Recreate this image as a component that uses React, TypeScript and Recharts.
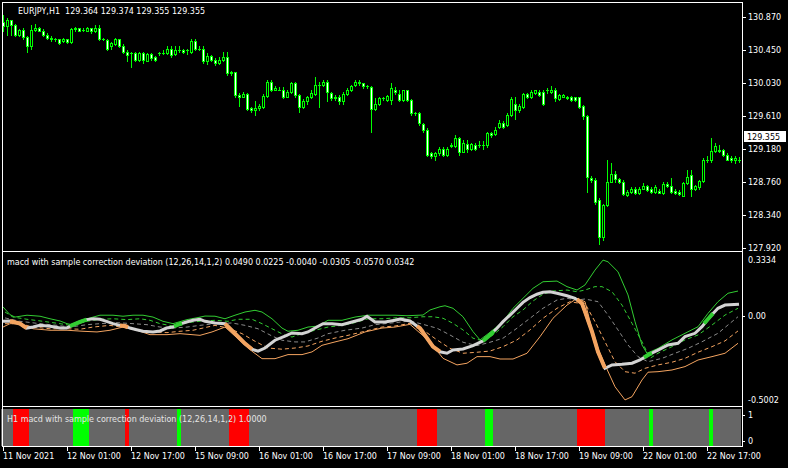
import React from 'react';
import {
  ComposedChart,
  LineChart,
  Bar,
  Line,
  XAxis,
  YAxis,
  Cell,
  ReferenceLine,
} from 'recharts';

const FONT = 'DejaVu Sans';
const LIME = '#00ff00';

// EURJPY H1 candles, bar 0 = 11 Nov 2021 09:00
const opens = [
  130.80, 130.75, 130.82, 130.76, 130.63, 130.70, 130.61, 130.49, 130.70, 130.72,
  130.69, 130.63, 130.60, 130.58, 130.58, 130.56, 130.58, 130.54, 130.71, 130.72,
  130.70, 130.69, 130.72, 130.68, 130.72, 130.58, 130.57, 130.49, 130.52, 130.58,
  130.49, 130.42, 130.40, 130.40, 130.32, 130.41, 130.31, 130.39, 130.35, 130.40,
  130.40, 130.40, 130.46, 130.39, 130.45, 130.44, 130.44, 130.42, 130.56, 130.46,
  130.46, 130.30, 130.37, 130.32, 130.28, 130.32, 130.35, 130.17, 130.16, 129.87,
  129.85, 129.89, 129.70, 129.68, 129.70, 129.72, 129.86, 130.04, 129.94, 129.94,
  129.94, 129.85, 129.91, 130.02, 129.87, 129.72, 129.79, 129.84, 129.89, 130.00,
  130.00, 130.04, 129.90, 129.85, 129.85, 129.79, 129.89, 129.93, 130.00, 130.04,
  130.02, 129.98, 129.97, 129.69, 129.76, 129.83, 129.81, 129.81, 129.94, 129.89,
  129.81, 129.93, 129.81, 129.64, 129.64, 129.50, 129.43, 129.13, 129.09, 129.13,
  129.19, 129.11, 129.22, 129.22, 129.32, 129.15, 129.25, 129.18, 129.23, 129.23,
  129.23, 129.23, 129.39, 129.38, 129.46, 129.52, 129.49, 129.62, 129.76, 129.68,
  129.72, 129.88, 129.84, 129.90, 129.91, 129.91, 129.93, 129.91, 129.93, 129.82,
  129.85, 129.85, 129.84, 129.84, 129.84, 129.73, 129.60, 128.82, 128.79, 128.53,
  128.06, 128.47, 128.77, 128.87, 128.80, 128.77, 128.60, 128.64, 128.68, 128.62,
  128.68, 128.71, 128.68, 128.64, 128.65, 128.62, 128.74, 128.71, 128.65, 128.64,
  128.59, 128.75, 128.85, 128.68, 128.70, 128.78, 129.04, 129.04, 129.16, 129.17,
  129.17, 129.11, 129.07, 129.05, 129.04,
];
const highs = [
  130.89, 130.85, 130.83, 130.78, 130.71, 130.72, 130.62, 130.76, 130.78, 130.74,
  130.71, 130.66, 130.62, 130.60, 130.59, 130.60, 130.59, 130.72, 130.74, 130.73,
  130.72, 130.74, 130.73, 130.76, 130.76, 130.60, 130.59, 130.55, 130.60, 130.59,
  130.52, 130.44, 130.42, 130.42, 130.42, 130.42, 130.41, 130.41, 130.37, 130.42,
  130.44, 130.49, 130.49, 130.49, 130.49, 130.46, 130.46, 130.58, 130.58, 130.49,
  130.49, 130.40, 130.38, 130.34, 130.35, 130.42, 130.42, 130.18, 130.17, 129.90,
  129.91, 129.90, 129.72, 129.79, 129.76, 129.89, 130.06, 130.06, 129.98, 129.97,
  129.97, 129.93, 130.04, 130.04, 129.89, 129.82, 129.86, 129.93, 130.10, 130.04,
  130.06, 130.06, 129.91, 129.87, 129.87, 129.91, 129.96, 130.00, 130.06, 130.06,
  130.03, 130.00, 129.99, 129.83, 129.85, 129.85, 129.87, 130.02, 129.97, 129.93,
  129.94, 129.94, 129.82, 129.66, 129.66, 129.51, 129.45, 129.15, 129.15, 129.21,
  129.21, 129.21, 129.26, 129.36, 129.34, 129.30, 129.30, 129.26, 129.26, 129.28,
  129.28, 129.40, 129.40, 129.47, 129.55, 129.54, 129.64, 129.84, 129.85, 129.76,
  129.90, 129.90, 129.93, 129.94, 129.93, 129.93, 129.96, 129.99, 129.96, 129.89,
  129.88, 129.86, 129.86, 129.85, 129.85, 129.74, 129.62, 128.84, 128.81, 128.56,
  128.49, 129.04, 129.00, 128.90, 128.81, 128.79, 128.66, 128.70, 128.70, 128.70,
  128.75, 128.73, 128.70, 128.73, 128.67, 128.76, 128.77, 128.81, 128.67, 128.66,
  128.77, 128.92, 128.92, 128.73, 128.79, 129.07, 129.09, 129.32, 129.26, 129.23,
  129.19, 129.13, 129.09, 129.09, 129.08,
];
const lows = [
  130.68, 130.63, 130.63, 130.62, 130.62, 130.59, 130.42, 130.46, 130.69, 130.68,
  130.62, 130.59, 130.56, 130.56, 130.52, 130.55, 130.53, 130.53, 130.69, 130.68,
  130.68, 130.68, 130.66, 130.67, 130.57, 130.57, 130.45, 130.46, 130.51, 130.48,
  130.40, 130.30, 130.23, 130.30, 130.31, 130.28, 130.30, 130.32, 130.31, 130.38,
  130.39, 130.39, 130.36, 130.38, 130.42, 130.41, 130.39, 130.41, 130.44, 130.44,
  130.28, 130.27, 130.31, 130.25, 130.27, 130.31, 130.13, 130.13, 129.85, 129.73,
  129.84, 129.68, 129.66, 129.62, 129.68, 129.71, 129.85, 129.92, 129.93, 129.93,
  129.83, 129.84, 129.90, 129.85, 129.66, 129.70, 129.76, 129.83, 129.87, 129.72,
  129.99, 129.79, 129.81, 129.81, 129.76, 129.76, 129.87, 129.92, 129.99, 130.00,
  129.96, 129.96, 129.40, 129.68, 129.74, 129.81, 129.79, 129.76, 129.89, 129.79,
  129.79, 129.79, 129.62, 129.62, 129.49, 129.40, 129.09, 129.07, 129.05, 129.11,
  129.09, 129.09, 129.21, 129.21, 129.11, 129.14, 129.15, 129.17, 129.17, 129.21,
  129.19, 129.21, 129.34, 129.36, 129.45, 129.45, 129.48, 129.60, 129.57, 129.66,
  129.71, 129.83, 129.83, 129.89, 129.86, 129.75, 129.90, 129.90, 129.79, 129.81,
  129.84, 129.82, 129.79, 129.79, 129.71, 129.57, 128.64, 128.77, 128.49, 127.98,
  128.03, 128.46, 128.76, 128.77, 128.75, 128.60, 128.58, 128.62, 128.61, 128.61,
  128.67, 128.65, 128.63, 128.63, 128.62, 128.61, 128.70, 128.63, 128.61, 128.60,
  128.58, 128.74, 128.58, 128.66, 128.68, 128.76, 129.02, 129.02, 129.15, 129.15,
  129.09, 129.04, 129.02, 129.00, 129.02,
];
const closes = [
  130.75, 130.83, 130.76, 130.63, 130.70, 130.61, 130.49, 130.70, 130.72, 130.69,
  130.63, 130.60, 130.58, 130.58, 130.53, 130.58, 130.54, 130.71, 130.72, 130.69,
  130.70, 130.72, 130.68, 130.72, 130.58, 130.59, 130.46, 130.53, 130.58, 130.49,
  130.42, 130.38, 130.40, 130.32, 130.41, 130.32, 130.39, 130.34, 130.32, 130.40,
  130.41, 130.46, 130.38, 130.45, 130.45, 130.42, 130.44, 130.56, 130.46, 130.46,
  130.30, 130.37, 130.32, 130.28, 130.32, 130.35, 130.15, 130.15, 129.87, 129.85,
  129.89, 129.69, 129.68, 129.70, 129.73, 129.86, 130.04, 129.93, 129.96, 129.94,
  129.85, 129.91, 130.02, 129.87, 129.72, 129.79, 129.84, 129.90, 130.00, 130.00,
  130.04, 129.91, 129.83, 129.83, 129.79, 129.89, 129.93, 129.98, 130.04, 130.02,
  129.98, 129.98, 129.69, 129.76, 129.83, 129.83, 129.86, 129.96, 129.91, 129.81,
  129.93, 129.81, 129.64, 129.64, 129.51, 129.43, 129.11, 129.09, 129.13, 129.19,
  129.11, 129.19, 129.23, 129.32, 129.15, 129.26, 129.18, 129.25, 129.18, 129.23,
  129.23, 129.39, 129.36, 129.43, 129.52, 129.47, 129.62, 129.82, 129.68, 129.73,
  129.88, 129.84, 129.91, 129.93, 129.87, 129.76, 129.93, 129.93, 129.83, 129.87,
  129.87, 129.83, 129.81, 129.81, 129.72, 129.60, 128.83, 128.79, 128.51, 128.06,
  128.47, 128.77, 128.87, 128.80, 128.77, 128.61, 128.64, 128.68, 128.62, 128.68,
  128.71, 128.66, 128.64, 128.70, 128.63, 128.74, 128.71, 128.64, 128.63, 128.61,
  128.75, 128.83, 128.68, 128.71, 128.78, 129.04, 129.05, 129.16, 129.22, 129.16,
  129.11, 129.05, 129.05, 129.07, 129.04,
];

const headerQuote = [129.364, 129.374, 129.355, 129.355];
const lastPrice = 129.355;
const priceTicks = [130.87, 130.45, 130.03, 129.61, 129.18, 128.76, 128.34, 127.92];

// macd pane, [bar, value]
const macdMain = [
  [0, -0.032], [1.75, -0.03], [4.25, -0.046], [5.9, -0.072], [7.5, -0.066], [9.25, -0.056],
  [11.75, -0.061], [14.25, -0.072], [15.9, -0.072], [17.2, -0.056], [19.25, -0.036],
  [20.9, -0.022], [22.6, -0.017], [24.25, -0.02], [25.9, -0.032], [27.5, -0.046],
  [29.25, -0.056], [30.5, -0.06], [31.75, -0.072], [33.4, -0.082], [35, -0.091],
  [37.5, -0.095], [39.25, -0.089], [40.9, -0.072], [42.5, -0.066], [43.75, -0.052],
  [45.9, -0.036], [47.5, -0.026], [49.25, -0.02], [50.5, -0.032], [53, -0.042],
  [55.5, -0.046], [58, -0.105], [60.5, -0.164], [62.25, -0.197], [63.75, -0.209],
  [65.5, -0.19], [68, -0.144], [70.5, -0.119], [72.25, -0.101], [74.75, -0.105],
  [76.25, -0.095], [78, -0.072], [80, -0.046], [82.25, -0.046], [84.75, -0.052],
  [87.25, -0.036], [89.75, -0.02], [91, -0.002], [93, -0.036], [95.5, -0.036],
  [98, -0.026], [99.25, -0.018], [101.75, -0.03], [104.25, -0.073], [106, -0.132],
  [107.5, -0.182], [109.25, -0.212], [111, -0.221], [112.5, -0.202], [115, -0.196],
  [117.5, -0.176], [120, -0.148], [121.75, -0.113], [123.5, -0.073], [125, -0.034],
  [126.75, 0.005], [128.5, 0.045], [130, 0.08], [131.75, 0.108], [133.5, 0.128],
  [135, 0.14], [136.75, 0.143], [138.5, 0.134], [141, 0.119], [143, 0.104],
  [144.75, 0.074], [145.5, 0.025], [147.25, -0.093], [148.75, -0.212], [150.5, -0.31],
  [152.25, -0.29], [154.75, -0.286], [157.25, -0.28], [159.25, -0.261], [161.25, -0.231],
  [163.75, -0.202], [166.25, -0.172], [168.75, -0.162], [170.5, -0.123], [173, -0.103],
  [174.75, -0.064], [176.75, -0.005], [178.75, 0.045], [180.5, 0.064], [184, 0.069],
];
const upperOuter = [
  [0, 0.053], [1.75, 0.007], [3, -0.007], [6, 0.004], [9.25, -0.002], [11.75, -0.017],
  [14.25, -0.03], [16, -0.046], [17.25, -0.052], [21, -0.017], [24.25, 0.004],
  [27.5, 0.004], [30, -0.002], [32.5, 0.004], [35, 0.004], [37.5, -0.007], [40, -0.032],
  [42.5, -0.046], [46, -0.022], [48.5, -0.011], [50.5, -0.001], [53, -0.002],
  [55.5, -0.017], [58, 0.004], [60.5, 0.023], [63, 0.033], [64.75, 0.023], [67.25, -0.017],
  [69.75, -0.072], [71.25, -0.091], [73.75, -0.085], [76.25, -0.066], [78.75, -0.06],
  [81.25, -0.026], [84.75, -0.026], [88, -0.007], [91.25, 0.004], [94.75, 0.004],
  [98, 0.004], [101, 0.001], [105, 0.005], [106.75, 0.035], [109.25, 0.054],
  [110.5, 0.06], [112.5, 0.045], [115, -0.005], [117.5, -0.093], [119.25, -0.142],
  [121.75, -0.097], [125, -0.034], [127.5, 0.045], [130, 0.104], [132.5, 0.163],
  [135, 0.202], [138.5, 0.206], [141, 0.173], [143.5, 0.153], [145.5, 0.183],
  [148, 0.271], [150, 0.33], [151.25, 0.32], [153.75, 0.261], [156.25, 0.124],
  [158, -0.034], [159.75, -0.172], [161, -0.221], [163.75, -0.192], [167.25, -0.142],
  [170.5, -0.103], [173.75, -0.064], [176.25, 0.015], [178.75, 0.084], [181.25, 0.134],
  [183.75, 0.147],
];
const upperInner = [
  [0.5, 0.023], [2.5, -0.007], [6, -0.02], [10, -0.032], [14.25, -0.046], [16.75, -0.056],
  [21, -0.032], [24.25, -0.02], [27.5, -0.017], [31, -0.022], [34.25, -0.017],
  [36.75, -0.026], [39.25, -0.046], [42.5, -0.06], [46, -0.04], [49.25, -0.032],
  [53, -0.026], [56.25, -0.032], [58.75, -0.02], [62.25, -0.02], [64.75, -0.046],
  [68, -0.085], [70.5, -0.115], [72.25, -0.125], [74.75, -0.105], [78, -0.085],
  [81.25, -0.066], [84.75, -0.056], [88, -0.04], [91.25, -0.017], [94.75, -0.017],
  [98, -0.012], [101.75, -0.011], [105, -0.005], [107.5, -0.005], [110, -0.014],
  [112.5, -0.044], [115, -0.083], [117.5, -0.132], [120, -0.148], [122.5, -0.113],
  [125, -0.064], [127.5, -0.005], [130, 0.035], [132.5, 0.088], [135, 0.128],
  [137.5, 0.147], [141, 0.153], [143.5, 0.143], [145.5, 0.153], [148, 0.173],
  [149.75, 0.173], [152.25, 0.143], [154.75, 0.064], [157.25, -0.044], [159.75, -0.153],
  [161.75, -0.251], [163.75, -0.221], [167.25, -0.182], [170.5, -0.142], [173.75, -0.113],
  [177.25, -0.054], [180.5, 0.005], [183.75, 0.045],
];
const middleBand = [
  [0.5, -0.012], [4.25, -0.032], [9.25, -0.046], [13.5, -0.056], [16.75, -0.066],
  [21, -0.052], [24.25, -0.046], [28.5, -0.04], [32.5, -0.046], [36, -0.052],
  [39.25, -0.066], [42.5, -0.072], [46, -0.066], [49.25, -0.056], [53, -0.046],
  [57.25, -0.042], [60.5, -0.056], [63.75, -0.076], [67.25, -0.119], [69.75, -0.144],
  [73, -0.154], [75.5, -0.154], [78.75, -0.131], [81.25, -0.105], [85.5, -0.085],
  [89.75, -0.072], [93, -0.052], [98, -0.04], [101.75, -0.03], [105, -0.05],
  [108.5, -0.073], [111.75, -0.113], [115, -0.156], [118.5, -0.176], [121.75, -0.156],
  [125, -0.132], [128.5, -0.073], [131.75, -0.014], [135, 0.045], [138.5, 0.094],
  [141, 0.104], [143.5, 0.094], [145.5, 0.1], [148.75, 0.084], [151.25, 0.005],
  [153.75, -0.083], [156.25, -0.172], [158.75, -0.241], [161.25, -0.271], [164.75, -0.251],
  [168, -0.221], [171.25, -0.192], [174.75, -0.153], [178.75, -0.103], [182.25, -0.034],
  [183.75, -0.005],
];
const lowerInner = [
  [0.5, -0.046], [4.25, -0.046], [7.5, -0.066], [11.75, -0.076], [16, -0.076],
  [19.25, -0.079], [22.5, -0.066], [26.75, -0.056], [31, -0.072], [34.25, -0.085],
  [37.5, -0.095], [41, -0.099], [44.25, -0.091], [47.5, -0.085], [53, -0.056],
  [56.25, -0.072], [59.75, -0.105], [63, -0.15], [66.25, -0.19], [69.75, -0.197],
  [73, -0.19], [76.25, -0.178], [79.75, -0.15], [83, -0.131], [86.25, -0.115],
  [89.75, -0.095], [94.75, -0.066], [98, -0.06], [101.75, -0.044], [105, -0.083],
  [108.5, -0.142], [111.75, -0.192], [115, -0.221], [118.5, -0.215], [121.75, -0.208],
  [125, -0.182], [128.5, -0.142], [131.75, -0.083], [135, -0.014], [138.5, 0.045],
  [141.75, 0.084], [144.25, 0.074], [145.5, 0.074], [148, -0.034], [150.5, -0.153],
  [153, -0.271], [155.5, -0.33], [158, -0.339], [160.5, -0.31], [163.75, -0.29],
  [167.25, -0.274], [170.5, -0.251], [173.75, -0.215], [177.25, -0.182], [180.5, -0.148],
  [183.75, -0.089],
];
const lowerOuter = [
  [0, -0.066], [1.75, -0.046], [4.25, -0.046], [7.5, -0.076], [11.75, -0.085], [16, -0.085],
  [20, -0.091], [23.5, -0.095], [26.75, -0.085], [30, -0.066], [33.5, -0.085],
  [36.75, -0.111], [41, -0.111], [44.25, -0.105], [49.25, -0.115], [52.25, -0.095],
  [55.5, -0.066], [58.75, -0.135], [62.25, -0.209], [64.75, -0.253], [68, -0.253],
  [71.25, -0.229], [74.75, -0.229], [77.25, -0.213], [79.75, -0.174], [83, -0.154],
  [86.25, -0.135], [90.5, -0.095], [94.75, -0.072], [98, -0.066], [101.75, -0.05],
  [106.75, -0.153], [110, -0.251], [113.5, -0.29], [116, -0.28], [118.5, -0.241],
  [121.75, -0.241], [124.25, -0.255], [127.5, -0.255], [131, -0.221], [134.25, -0.123],
  [137.5, -0.014], [141, 0.064], [143.5, 0.104], [145.5, 0.084], [148, -0.153],
  [150.5, -0.29], [153, -0.419], [155.5, -0.497], [157.25, -0.478], [159.75, -0.379],
  [161.25, -0.333], [163.75, -0.33], [167.25, -0.32], [170.5, -0.3], [173.75, -0.261],
  [177.25, -0.241], [180.5, -0.221], [183.75, -0.162],
];
// thick coloured pieces of the main line
const mainFalling = [
  [[1.75, -0.03], [4.25, -0.046], [5.9, -0.072]],
  [[29.25, -0.056], [30.5, -0.06], [31.25, -0.067]],
  [[55.5, -0.046], [58, -0.105], [60.5, -0.164], [62.25, -0.197]],
  [[103.5, -0.06], [104.25, -0.073], [106, -0.132], [107.5, -0.182], [109.25, -0.212]],
  [[143.5, 0.098], [144.75, 0.074], [145.5, 0.025], [147.25, -0.093], [148.75, -0.212], [150.5, -0.31]],
];
const mainRising = [
  [[16.75, -0.062], [17.2, -0.056], [19.25, -0.036], [20.9, -0.022]],
  [[42.75, -0.062], [43.75, -0.052], [44.75, -0.045]],
  [[120, -0.148], [121.75, -0.113], [122.75, -0.09]],
  [[160.25, -0.246], [161.25, -0.231], [162.25, -0.22]],
  [[175.25, -0.045], [176.75, -0.005], [177.5, 0.015]],
];
const macdTicks = [0.3334, 0, -0.5002];
const macdReadout = [0.049, 0.0225, -0.004, -0.0305, -0.057, 0.0342];

// signal pane
const redBars = [3, 4, 5, 6, 31, 57, 58, 59, 60, 61, 104, 105, 106, 107, 108, 144, 145, 146, 147, 148, 149, 150];
const greenBars = [18, 19, 20, 21, 44, 121, 122, 162, 177];

const timeTickBars = [0, 16, 32, 48, 64, 80, 96, 112, 128, 144, 160, 176];
const timeLabels = [
  '11 Nov 2021', '12 Nov 01:00', '12 Nov 17:00', '15 Nov 09:00', '16 Nov 01:00', '16 Nov 17:00',
  '17 Nov 09:00', '18 Nov 01:00', '18 Nov 17:00', '19 Nov 09:00', '22 Nov 01:00', '22 Nov 17:00',
];

const candles = opens.map((o, i) => ({ t: i, o, h: highs[i], l: lows[i], c: closes[i] }));
const signalData = opens.map((_, i) => ({ t: i, v: 1 }));
const pts = (arr: number[][]) => arr.map(([t, v]) => ({ t, v }));

function Candle(props: any) {
  const { x, y, width, height, payload } = props;
  if (x == null || !payload) return null;
  const { o, c, h, l } = payload;
  const span = h - l;
  const py = (p: number) => (span > 0 ? y + ((h - p) / span) * height : y);
  const left = Math.round(x);
  const top = Math.round(py(Math.max(o, c))) + 0.5;
  const bot = Math.round(py(Math.min(o, c))) + 0.5;
  return (
    <g>
      <line x1={left + 2.5} x2={left + 2.5} y1={Math.round(py(h))} y2={Math.round(py(l)) + 1} stroke={LIME} />
      {bot - top < 1 ? (
        <line x1={left + 1} x2={left + 4} y1={top} y2={top} stroke={LIME} />
      ) : (
        <rect x={left + 1.5} y={top} width={2} height={bot - top} fill={c > o ? '#000' : '#fff'} stroke={LIME} />
      )}
    </g>
  );
}

const PriceTick = ({ y, payload }: any) => (
  <g>
    <line x1={742} x2={746} y1={Math.round(y) + 0.5} y2={Math.round(y) + 0.5} stroke="#fff" />
    <text x={748} y={y + 3} fill="#fff" fontSize={8} fontFamily={FONT}>
      {payload.value.toFixed(3)}
    </text>
  </g>
);

const MacdTick = ({ y, payload }: any) => (
  <g>
    {payload.value === 0 && <line x1={742} x2={745} y1={Math.round(y) + 0.5} y2={Math.round(y) + 0.5} stroke="#fff" />}
    <text x={748} y={y + 3} fill="#fff" fontSize={8} fontFamily={FONT}>
      {payload.value === 0 ? '0.00' : payload.value.toFixed(4)}
    </text>
  </g>
);

const SignalTick = ({ y, payload }: any) => {
  const ty = payload.value === 1 ? y + 6 : y - 5;
  return (
    <g>
      <line x1={742} x2={745} y1={Math.round(ty) + 0.5} y2={Math.round(ty) + 0.5} stroke="#fff" />
      <text x={748} y={ty + 3} fill="#fff" fontSize={8} fontFamily={FONT}>
        {payload.value}
      </text>
    </g>
  );
};

const TimeTick = ({ x, payload }: any) => {
  const k = timeTickBars.indexOf(payload.value);
  const px = Math.round(x) + 0.5;
  return (
    <g>
      <line x1={px} x2={px} y1={38} y2={42} stroke="#fff" />
      <text x={px - 0.5} y={50} fill="#fff" fontSize={8} fontFamily={FONT}>
        {timeLabels[k]}
      </text>
    </g>
  );
};

const PriceBox = ({ viewBox }: any) => {
  const cy = Math.round(viewBox.y);
  return (
    <g>
      <rect x={744} y={cy - 5} width={42} height={11} fill="#fff" />
      <text x={747} y={cy + 3.5} fill="#000" fontSize={8} fontFamily={FONT}>
        {lastPrice.toFixed(3)}
      </text>
    </g>
  );
};

export default function App() {
  const abs = (top: number): React.CSSProperties => ({ position: 'absolute', left: 0, top });
  return (
    <div style={{ position: 'absolute', left: 0, top: 0, width: 788, height: 468, background: '#000', overflow: 'hidden' }}>
      <div style={abs(0)}>
        <ComposedChart width={788} height={255} data={candles} margin={{ top: 2, right: 0, bottom: 6, left: 1 }} barCategoryGap={0} barGap={0}>
          <XAxis dataKey="t" hide />
          <YAxis
            orientation="right"
            width={47}
            domain={[127.911, 131.055]}
            allowDataOverflow
            ticks={priceTicks}
            interval={0}
            tick={<PriceTick />}
            tickLine={false}
            axisLine={false}
          />
          <Bar dataKey={(d: any) => [d.l, d.h]} shape={<Candle />} isAnimationActive={false} />
          <ReferenceLine y={lastPrice} stroke="#000" strokeOpacity={0} label={<PriceBox />} />
        </ComposedChart>
      </div>

      <div style={abs(253)}>
        <LineChart width={788} height={153} margin={{ top: 0, right: 0, bottom: 0, left: 1 }}>
          <XAxis type="number" dataKey="t" domain={[-0.5, 184.5]} allowDataOverflow hide />
          <YAxis
            orientation="right"
            width={47}
            domain={[-0.533, 0.372]}
            allowDataOverflow
            ticks={macdTicks}
            interval={0}
            tick={<MacdTick />}
            tickLine={false}
            axisLine={false}
          />
          <Line data={pts(upperOuter)} dataKey="v" stroke="#32cd32" strokeWidth={1} dot={false} isAnimationActive={false} />
          <Line data={pts(upperInner)} dataKey="v" stroke="#32cd32" strokeWidth={1} strokeDasharray="4 3" dot={false} isAnimationActive={false} />
          <Line data={pts(middleBand)} dataKey="v" stroke="#8a8a8a" strokeWidth={1} strokeDasharray="4 3" dot={false} isAnimationActive={false} />
          <Line data={pts(lowerInner)} dataKey="v" stroke="#f4a460" strokeWidth={1} strokeDasharray="4 3" dot={false} isAnimationActive={false} />
          <Line data={pts(lowerOuter)} dataKey="v" stroke="#f4a460" strokeWidth={1} dot={false} isAnimationActive={false} />
          <Line data={pts(macdMain)} dataKey="v" stroke="#d3d3d3" strokeWidth={3} dot={false} isAnimationActive={false} />
          {mainFalling.map((seg, k) => (
            <Line key={'f' + k} data={pts(seg)} dataKey="v" stroke="#f4a460" strokeWidth={4} dot={false} isAnimationActive={false} />
          ))}
          {mainRising.map((seg, k) => (
            <Line key={'r' + k} data={pts(seg)} dataKey="v" stroke="#32cd32" strokeWidth={4} dot={false} isAnimationActive={false} />
          ))}
        </LineChart>
      </div>

      <div style={abs(409)}>
        <ComposedChart width={788} height={59} data={signalData} margin={{ top: 0, right: 0, bottom: 0, left: 1 }} barCategoryGap={0} barGap={0}>
          <XAxis dataKey="t" height={22} ticks={timeTickBars} interval={0} tick={<TimeTick />} tickLine={false} axisLine={false} />
          <YAxis orientation="right" width={47} domain={[0, 1]} ticks={[0, 1]} interval={0} tick={<SignalTick />} tickLine={false} axisLine={false} />
          <Bar dataKey="v" isAnimationActive={false}>
            {signalData.map((d) => (
              <Cell
                key={d.t}
                fill={redBars.includes(d.t) ? '#ff0000' : greenBars.includes(d.t) ? '#00ff00' : '#666666'}
              />
            ))}
          </Bar>
        </ComposedChart>
      </div>

      <svg width={788} height={468} style={{ position: 'absolute', left: 0, top: 0, pointerEvents: 'none' }}>
        <g stroke="#fff" strokeWidth={1}>
          <line x1={2} x2={743} y1={2.5} y2={2.5} />
          <line x1={2.5} x2={2.5} y1={2} y2={447} />
          <line x1={742.5} x2={742.5} y1={2} y2={447} />
          <line x1={2} x2={743} y1={251.5} y2={251.5} />
          <line x1={2} x2={743} y1={406.5} y2={406.5} />
          <line x1={2} x2={743} y1={446.5} y2={446.5} />
        </g>
        <g fontFamily={FONT} fontSize={8}>
          <text x={18} y={14} fill="#fff" style={{ whiteSpace: 'pre' }}>
            {'EURJPY,H1  ' + headerQuote.map((v) => v.toFixed(3)).join(' ')}
          </text>
          <text x={7} y={265} fill="#fff">
            {'macd with sample correction deviation (12,26,14,1,2) ' + macdReadout.map((v) => v.toFixed(4)).join(' ')}
          </text>
          <text x={7} y={421.5} fill="#e4e4e4">
            H1 macd with sample correction deviation (12,26,14,1,2) 1.0000
          </text>
        </g>
      </svg>
    </div>
  );
}
